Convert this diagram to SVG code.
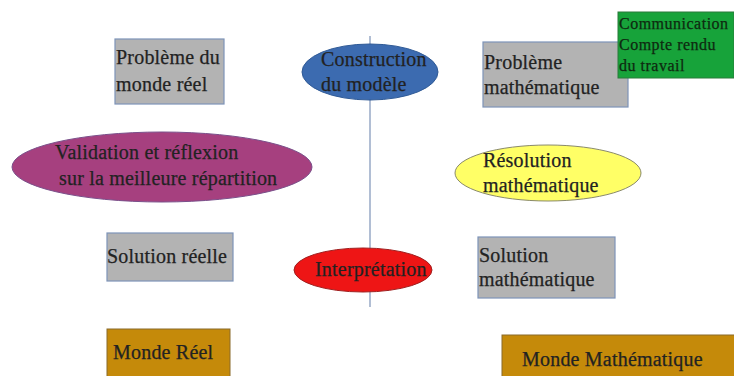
<svg xmlns="http://www.w3.org/2000/svg" width="734" height="376" viewBox="0 0 734 376">
<style>
text{font-family:"Liberation Serif","Times New Roman",serif;font-size:20px;letter-spacing:0.2px;fill:#222222;stroke:#222222;stroke-width:0.25}
.gray{fill:#b3b3b3;stroke:#7d93b8;stroke-width:1.2}
.brown{fill:#c58a0a;stroke:#8a6a2a;stroke-width:1}
.sm{font-size:16px;letter-spacing:0.5px;fill:#0e2a10;stroke:#0e2a10}
</style>
<rect width="734" height="376" fill="#ffffff"/>
<g id="connectors">
<line x1="370" y1="36" x2="370" y2="307" stroke="#7d93b8" stroke-width="1.2"/>
</g>
<g id="probleme-monde-reel">
<rect class="gray" x="115" y="39" width="109" height="65"/>
<text x="116" y="64">Problème du</text>
<text x="116" y="91">monde réel</text>
</g>
<g id="construction">
<ellipse cx="370" cy="72" rx="68" ry="28" fill="#3c6bb0" stroke="#2f5a96" stroke-width="1"/>
<text x="321" y="66">Construction</text>
<text x="321" y="91">du modèle</text>
</g>
<g id="probleme-math">
<rect class="gray" x="483" y="42" width="145" height="65"/>
<text x="484" y="69">Problème</text>
<text x="484" y="94">mathématique</text>
</g>
<g id="communication">
<rect x="618" y="12" width="116" height="66" fill="#17a33a" stroke="#2a7a3a" stroke-width="1"/>
<text class="sm" x="619" y="29">Communication</text>
<text class="sm" x="619" y="50">Compte rendu</text>
<text class="sm" x="619" y="71">du travail</text>
</g>
<g id="validation">
<ellipse cx="162" cy="167" rx="150" ry="35" fill="#a6407f" stroke="#7a4f8a" stroke-width="1"/>
<text x="55" y="159">Validation et réflexion</text>
<text x="59" y="185">sur la meilleure répartition</text>
</g>
<g id="resolution">
<ellipse cx="548" cy="173" rx="93" ry="28" fill="#ffff66" stroke="#8a8a6a" stroke-width="1"/>
<text x="483" y="167">Résolution</text>
<text x="483" y="192">mathématique</text>
</g>
<g id="solution-reelle">
<rect class="gray" x="107" y="233" width="126" height="48"/>
<text x="107" y="263">Solution réelle</text>
</g>
<g id="interpretation">
<ellipse cx="363" cy="270" rx="69" ry="22" fill="#ee1515" stroke="#a02020" stroke-width="1"/>
<text x="315" y="276">Interprétation</text>
</g>
<g id="solution-math">
<rect class="gray" x="478" y="237" width="137" height="61"/>
<text x="479" y="262">Solution</text>
<text x="479" y="286">mathématique</text>
</g>
<g id="monde-reel">
<rect class="brown" x="107" y="329" width="123" height="50"/>
<text x="113" y="359">Monde Réel</text>
</g>
<g id="monde-math">
<rect class="brown" x="502" y="335" width="235" height="45"/>
<text x="522" y="366">Monde Mathématique</text>
</g>
</svg>
